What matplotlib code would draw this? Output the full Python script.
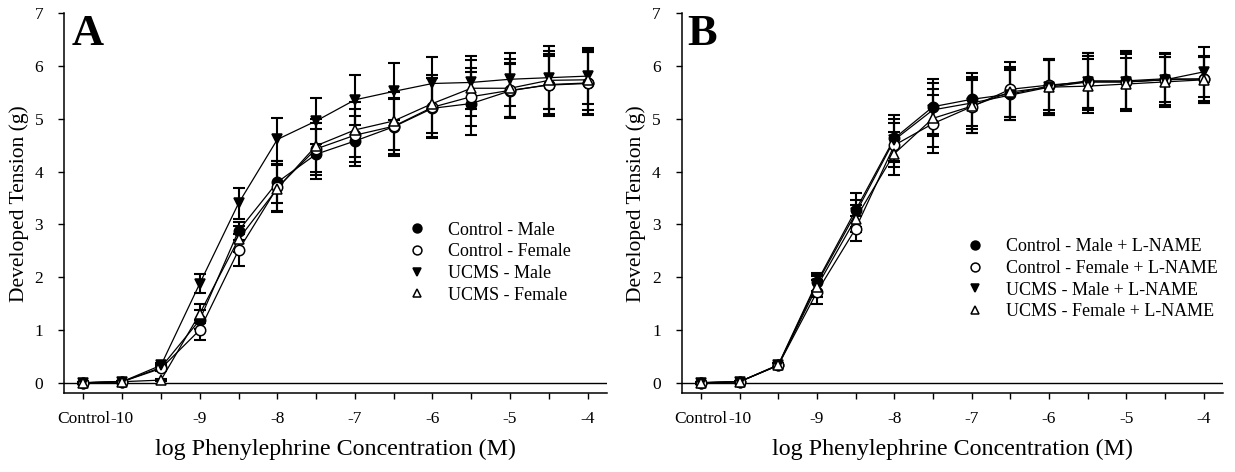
import numpy as np
import matplotlib
matplotlib.use("Agg")
import matplotlib.pyplot as plt
from matplotlib.transforms import offset_copy

plt.rcParams["font.family"] = ["Liberation Serif", "DejaVu Serif"]

# concentration steps: Control, then log[PE] from -10 to -4 in half-log steps
x_labels = ["Control", "-10", "", "-9", "", "-8", "", "-7", "", "-6", "", "-5", "", "-4"]

# panel A: no inhibitor (mean, SEM in g)
ctrl_male = [0.0, 0.02, 0.29, 1.19, 2.88, 3.80, 4.33, 4.58, 4.85, 5.20, 5.29, 5.53, 5.65, 5.68]
ctrl_male_err = [0.02, 0.02, 0.04, 0.18, 0.17, 0.40, 0.47, 0.47, 0.55, 0.57, 0.60, 0.52, 0.55, 0.58]
ctrl_female = [0.0, 0.02, 0.27, 1.00, 2.51, 3.70, 4.43, 4.69, 4.86, 5.22, 5.42, 5.54, 5.64, 5.67]
ctrl_female_err = [0.02, 0.02, 0.04, 0.19, 0.30, 0.45, 0.50, 0.50, 0.52, 0.56, 0.55, 0.50, 0.58, 0.60]
ucms_male = [0.0, 0.02, 0.33, 1.88, 3.40, 4.61, 4.96, 5.36, 5.52, 5.67, 5.69, 5.75, 5.78, 5.81]
ucms_male_err = [0.02, 0.02, 0.04, 0.18, 0.29, 0.40, 0.44, 0.47, 0.54, 0.50, 0.50, 0.50, 0.60, 0.53]
ucms_female = [0.0, 0.02, 0.05, 1.31, 2.72, 3.68, 4.49, 4.79, 4.96, 5.29, 5.58, 5.58, 5.73, 5.74]
ucms_female_err = [0.02, 0.02, 0.02, 0.18, 0.25, 0.45, 0.50, 0.52, 0.55, 0.55, 0.53, 0.55, 0.55, 0.57]

# panel B: + L-NAME
ctrl_male_ln = [0.0, 0.02, 0.34, 1.91, 3.27, 4.63, 5.23, 5.37, 5.47, 5.62, 5.72, 5.72, 5.76, 5.75]
ctrl_male_ln_err = [0.02, 0.02, 0.04, 0.17, 0.33, 0.44, 0.52, 0.50, 0.50, 0.51, 0.52, 0.57, 0.49, 0.45]
ctrl_female_ln = [0.0, 0.02, 0.33, 1.72, 2.92, 4.50, 4.91, 5.23, 5.56, 5.64, 5.70, 5.70, 5.74, 5.76]
ctrl_female_ln_err = [0.02, 0.02, 0.04, 0.22, 0.23, 0.42, 0.55, 0.50, 0.52, 0.48, 0.54, 0.54, 0.43, 0.42]
ucms_male_ln = [0.0, 0.02, 0.33, 1.88, 3.21, 4.60, 5.17, 5.30, 5.45, 5.60, 5.70, 5.70, 5.74, 5.89]
ucms_male_ln_err = [0.02, 0.02, 0.04, 0.18, 0.25, 0.40, 0.50, 0.50, 0.48, 0.52, 0.50, 0.52, 0.48, 0.47]
ucms_female_ln = [0.0, 0.02, 0.33, 1.82, 3.11, 4.34, 5.01, 5.24, 5.51, 5.60, 5.62, 5.66, 5.70, 5.74]
ucms_female_ln_err = [0.02, 0.02, 0.04, 0.20, 0.25, 0.41, 0.55, 0.51, 0.47, 0.53, 0.51, 0.50, 0.47, 0.44]

labels_a = ["Control - Male", "Control - Female", "UCMS - Male", "UCMS - Female"]
labels_b = [s + " + L-NAME" for s in labels_a]

styles = [
    dict(marker="o", mfc="black"),
    dict(marker="o", mfc="white"),
    dict(marker="v", mfc="black"),
    dict(marker="^", mfc="white"),
]

x = np.arange(len(x_labels))

fig = plt.figure(figsize=(12.35, 4.72), dpi=100)
ax_a = fig.add_axes([64 / 1235, 78.7 / 472, 543 / 1235, 380 / 472])
ax_b = fig.add_axes([681.6 / 1235, 78.7 / 472, 541.4 / 1235, 380 / 472])


def draw_panel(ax, series, errors, labels, letter, letter_dx, leg_pos):
    ax.axhline(0, color="black", lw=1.0, zorder=1)
    for y, e in zip(series, errors):
        ax.errorbar(x, y, yerr=e, fmt="none", ecolor="black", elinewidth=1.5,
                    capsize=4, capthick=1.5, zorder=2)
    handles = []
    for y, st, lab in zip(series, styles, labels):
        ax.plot(x, y, color="black", lw=0.9, zorder=3)
        h, = ax.plot(x, y, ls="none", marker=st["marker"], mfc=st["mfc"], mec="black",
                     mew=1.1, ms=7.5, zorder=4, label=lab)
        handles.append(h)

    ax.set_xlim(-0.5, 13.5)
    ax.set_ylim(-0.2, 7)
    ax.set_xticks(x)
    ax.set_xticklabels(x_labels)
    ax.set_yticks(range(8))
    ax.spines["top"].set_visible(False)
    ax.spines["right"].set_visible(False)
    ax.spines["left"].set_linewidth(1.1)
    ax.spines["bottom"].set_linewidth(1.1)
    ax.tick_params(axis="x", direction="out", length=4, width=1, labelsize=12.5, pad=9)
    ax.tick_params(axis="y", direction="out", length=4, width=1, labelsize=12.5, pad=11)
    ax.set_xlabel("log Phenylephrine Concentration (M)", fontsize=17.3, labelpad=8)
    ax.set_ylabel("Developed Tension (g)", fontsize=15.5, labelpad=4)

    tr = offset_copy(ax.transAxes, fig=fig, x=letter_dx, y=-1, units="dots")
    ax.text(0.0, 1.0, letter, transform=tr, fontsize=32, fontweight="bold",
            ha="left", va="top")

    ax.legend(handles=handles, loc="upper left", bbox_to_anchor=leg_pos, frameon=False,
              fontsize=13, handlelength=1.0, handletextpad=1.25, labelspacing=0.26,
              markerscale=0.85, borderpad=0, borderaxespad=0)


draw_panel(ax_a, [ctrl_male, ctrl_female, ucms_male, ucms_female],
           [ctrl_male_err, ctrl_female_err, ucms_male_err, ucms_female_err],
           labels_a, "A", 8, (0.633, 0.452))
draw_panel(ax_b, [ctrl_male_ln, ctrl_female_ln, ucms_male_ln, ucms_female_ln],
           [ctrl_male_ln_err, ctrl_female_ln_err, ucms_male_ln_err, ucms_female_ln_err],
           labels_b, "B", 6, (0.525, 0.408))

fig.savefig("out.png", dpi=100)
